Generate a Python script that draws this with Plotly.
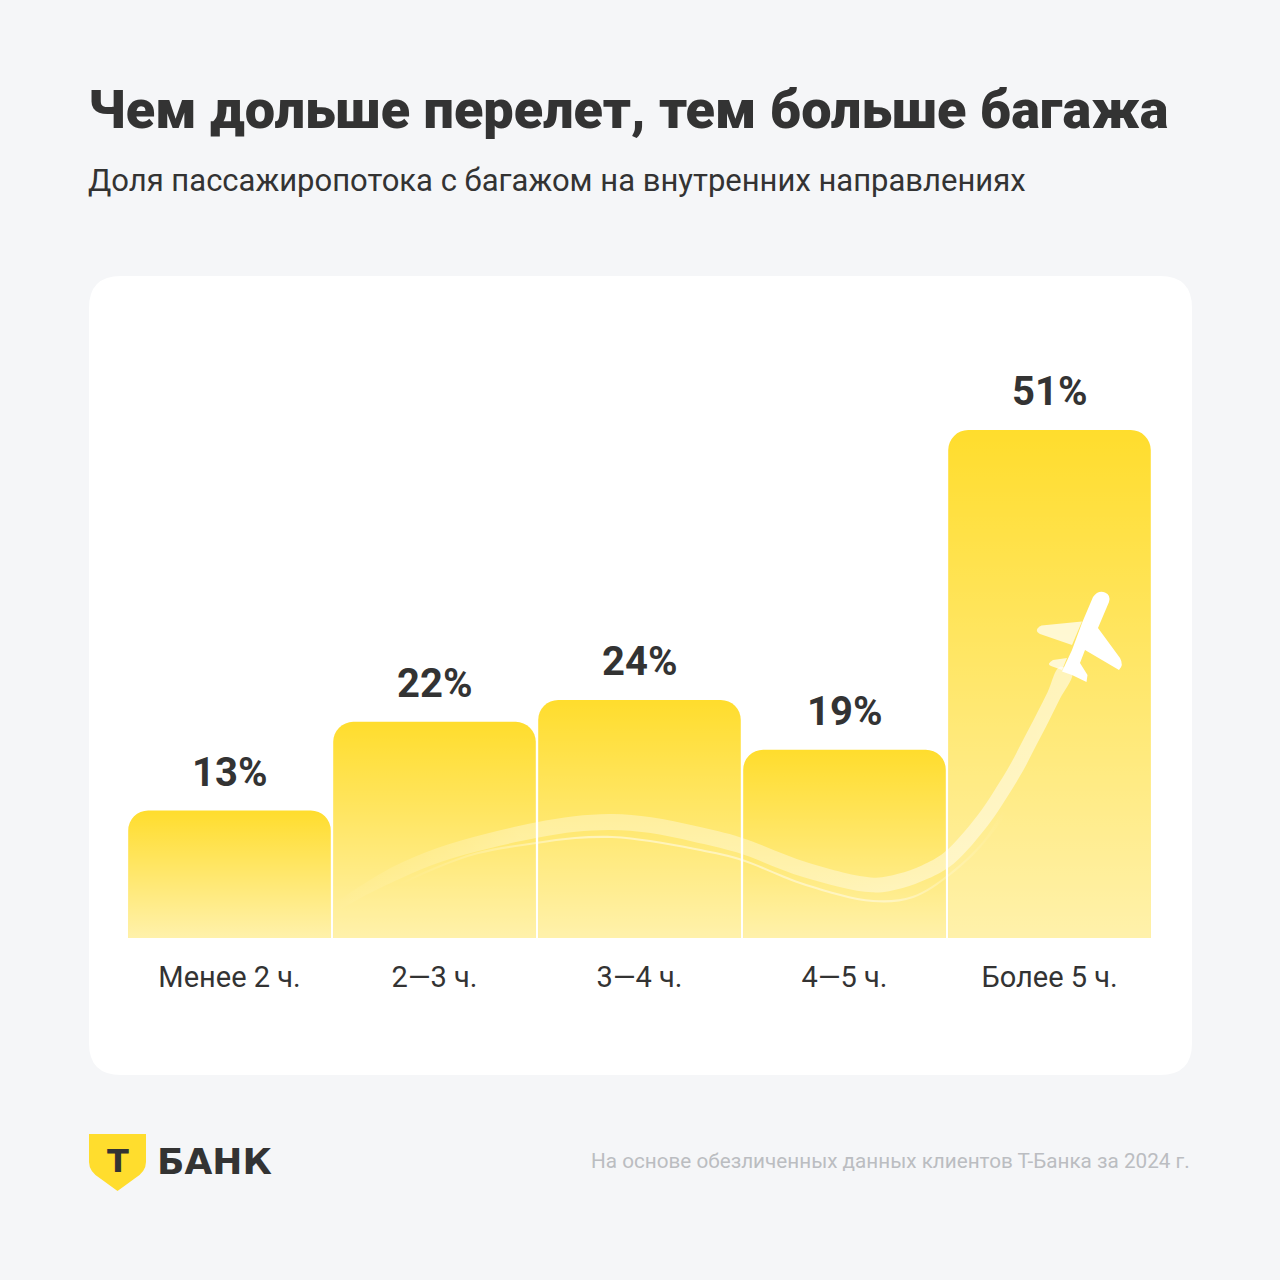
import numpy as np
import plotly.graph_objects as go

# данные с картинки
categories = ["Менее 2 ч.", "2—3 ч.", "3—4 ч.", "4—5 ч.", "Более 5 ч."]
shares = [12.8, 21.7, 23.9, 18.9, 51]
share_labels = ["13%", "22%", "24%", "19%", "51%"]

# след самолета, в пикселях картинки
trail_x = [335, 359, 398, 439, 488, 537, 575, 612, 650, 695, 739, 806, 873, 900, 925, 949, 983, 1000, 1017, 1030, 1043, 1054, 1066]
trail_y = [908, 893, 872, 855, 841, 830, 824, 822, 825, 834, 845, 870, 885, 881, 872, 858, 820, 795, 767, 742, 717, 695, 670]
thin_x = [400, 438, 478, 536, 575, 612, 650, 695, 739, 806, 873, 913, 949, 983, 1005]
thin_y = [884, 867, 853, 843, 838, 837, 841, 849, 859, 885, 901, 897, 875, 843, 812]

BG = "#F5F6F8"
DARK = "#333333"
YELLOW = "#FFDD2D"
FONT = "Roboto"

BAR_LEFT, BAR_RIGHT, BAR_BASE, BAR_TOP = 127, 1152, 938, 300
UNIT = 9.96
BAR_GAP = 0.012


def to_x(px):
    step = (BAR_RIGHT - BAR_LEFT) / len(categories)
    return (np.asarray(px, dtype=float) - BAR_LEFT) / step - 0.5


def to_y(py):
    return (BAR_BASE - np.asarray(py, dtype=float)) / UNIT


def band(xs, ys, half):
    # полоса заданной ширины вокруг кривой
    xs, ys = np.asarray(xs, dtype=float), np.asarray(ys, dtype=float)
    dx, dy = np.gradient(xs), np.gradient(ys)
    n = np.hypot(dx, dy)
    nx, ny = -dy / n, dx / n
    x = np.r_[xs + nx * half, (xs - nx * half)[::-1]]
    y = np.r_[ys + ny * half, (ys - ny * half)[::-1]]
    return to_x(x), to_y(y)


def fx(px):
    return px / 1280


def fy(py):
    return 1 - py / 1280


def path(cmds):
    # команды в пикселях -> доли листа
    out = []
    for c in cmds:
        if c == "Z":
            out.append("Z")
        else:
            nums = []
            for i in range(0, len(c) - 1, 2):
                nums.append(f"{fx(c[i + 1]):.5f},{fy(c[i + 2]):.5f}")
            out.append(c[0] + " " + " ".join(nums))
    return " ".join(out)


def round_rect(x0, y0, x1, y1, r):
    return path([
        ("M", x0 + r, y0), ("L", x1 - r, y0), ("Q", x1, y0, x1, y0 + r),
        ("L", x1, y1 - r), ("Q", x1, y1, x1 - r, y1), ("L", x0 + r, y1),
        ("Q", x0, y1, x0, y1 - r), ("L", x0, y0 + r), ("Q", x0, y0, x0 + r, y0), "Z",
    ])


positions = list(range(len(categories)))

fig = go.Figure()
fig.add_trace(go.Bar(x=positions, y=shares, width=1 - BAR_GAP, marker=dict(color=YELLOW, cornerradius=20, line_width=0),
                     hoverinfo="x+y", showlegend=False))

# белый градиент поверх каждого столбца
half_w = (1 - BAR_GAP) / 2
for pos, val in zip(positions, shares):
    fig.add_trace(go.Scatter(
        x=[pos - half_w, pos + half_w, pos + half_w, pos - half_w, pos - half_w],
        y=[0, 0, val, val, 0], mode="lines", fill="toself", line_width=0, hoverinfo="skip", showlegend=False,
        fillgradient=dict(type="vertical", colorscale=[[0, "rgba(255,255,255,0.6)"], [1, "rgba(255,255,255,0)"]]),
    ))

half = np.interp(trail_x, [335, 400, 612, 1066], [4, 7, 8, 7])
bx, by = band(trail_x, trail_y, half)
fig.add_trace(go.Scatter(
    x=bx, y=by, mode="lines", fill="toself", line=dict(width=0, shape="spline"), hoverinfo="skip", showlegend=False,
    fillgradient=dict(type="horizontal", colorscale=[
        [0, "rgba(255,255,255,0)"], [0.25, "rgba(255,255,255,0.33)"], [0.7, "rgba(255,255,255,0.38)"],
        [1, "rgba(255,255,255,0.55)"]]),
))
tx, ty = band(thin_x, thin_y, 1.1)
fig.add_trace(go.Scatter(
    x=tx, y=ty, mode="lines", fill="toself", line=dict(width=0, shape="spline"), hoverinfo="skip", showlegend=False,
    fillgradient=dict(type="horizontal", colorscale=[
        [0, "rgba(255,255,255,0)"], [0.3, "rgba(255,255,255,0.5)"], [0.8, "rgba(255,255,255,0.45)"],
        [1, "rgba(255,255,255,0)"]]),
))

shapes = [
    dict(type="path", xref="paper", yref="paper", layer="below", line_width=0, fillcolor="white",
         path=round_rect(89, 276, 1192, 1075, 32)),
    # щит логотипа
    dict(type="path", xref="paper", yref="paper", layer="below", line_width=0, fillcolor=YELLOW,
         path=path([("M", 89, 1134), ("L", 146, 1134), ("L", 146, 1162), ("Q", 146, 1172, 134, 1179),
                    ("L", 117.5, 1191), ("L", 101, 1179), ("Q", 89, 1172, 89, 1162), "Z"])),
    # самолет: бледные левые крылья
    dict(type="path", xref="paper", yref="paper", layer="above", line_width=0, fillcolor="rgba(255,255,255,0.72)",
         path=path([("M", 1082, 621.5), ("L", 1041.5, 625.5), ("Q", 1033, 630, 1040, 634), ("L", 1072, 645), "Z"])),
    dict(type="path", xref="paper", yref="paper", layer="above", line_width=0, fillcolor="rgba(255,255,255,0.72)",
         path=path([("M", 1067, 658), ("L", 1053, 660), ("Q", 1046, 664, 1051, 666), ("L", 1062, 670), "Z"])),
    # фюзеляж и правое крыло
    dict(type="path", xref="paper", yref="paper", layer="above", line_width=0, fillcolor="white",
         path=path([("M", 1093, 597), ("Q", 1098, 590, 1105, 592.5), ("Q", 1111, 595, 1109, 602), ("L", 1098, 628),
                    ("L", 1120, 658), ("Q", 1124, 665, 1119, 670), ("L", 1085, 650), ("L", 1080, 663),
                    ("L", 1087.5, 675), ("L", 1086.5, 682), ("L", 1072, 675), ("L", 1062, 671.5), ("L", 1072, 650),
                    ("L", 1082, 623), "Z"])),
]

annotations = []


def add_text(text, x, y, size, color=DARK, anchor="left", weight=400, family=FONT):
    annotations.append(dict(text=text, xref="paper", yref="paper", x=fx(x), y=fy(y), xanchor=anchor, yanchor="middle",
                            showarrow=False, font=dict(size=size, color=color, family=family, weight=weight)))


add_text("Чем дольше перелет, тем больше багажа", 86, 109, 54, weight=900)
add_text("Доля пассажиропотока с багажом на внутренних направлениях", 86, 181, 31)
add_text("На основе обезличенных данных клиентов Т-Банка за 2024 г.", 1192, 1161, 20.7, color="#BBBDC1", anchor="right")
add_text("Т", 117.5, 1161, 32, anchor="center", weight=700, family="DejaVu Sans")
add_text("БАНК", 155, 1161, 36, anchor="left", weight=700, family="DejaVu Sans")

# подписи значений над столбцами
for pos, val, label in zip(positions, shares, share_labels):
    annotations.append(dict(text=label, x=pos, y=val, xref="x", yref="y", xanchor="center", yanchor="bottom",
                            yshift=13, showarrow=False,
                            font=dict(size=40, color=DARK, family=FONT, weight=700)))

fig.update_layout(
    width=1280, height=1280, margin=dict(l=0, r=0, t=0, b=0, pad=0), autosize=False,
    paper_bgcolor=BG, plot_bgcolor="rgba(0,0,0,0)", showlegend=False, shapes=shapes, annotations=annotations,
    xaxis=dict(domain=[fx(BAR_LEFT), fx(BAR_RIGHT)], range=[-0.5, len(categories) - 0.5], tickvals=positions,
               ticktext=categories, showgrid=False, zeroline=False, showline=False, ticks="",
               ticklabelstandoff=19, tickfont=dict(size=29, color=DARK, family=FONT)),
    yaxis=dict(domain=[fy(BAR_BASE), fy(BAR_TOP)], range=[0, (BAR_BASE - BAR_TOP) / UNIT], visible=False),
)

fig.write_html("out.html", config={"displayModeBar": False}, post_script="document.body.style.margin='0';")
